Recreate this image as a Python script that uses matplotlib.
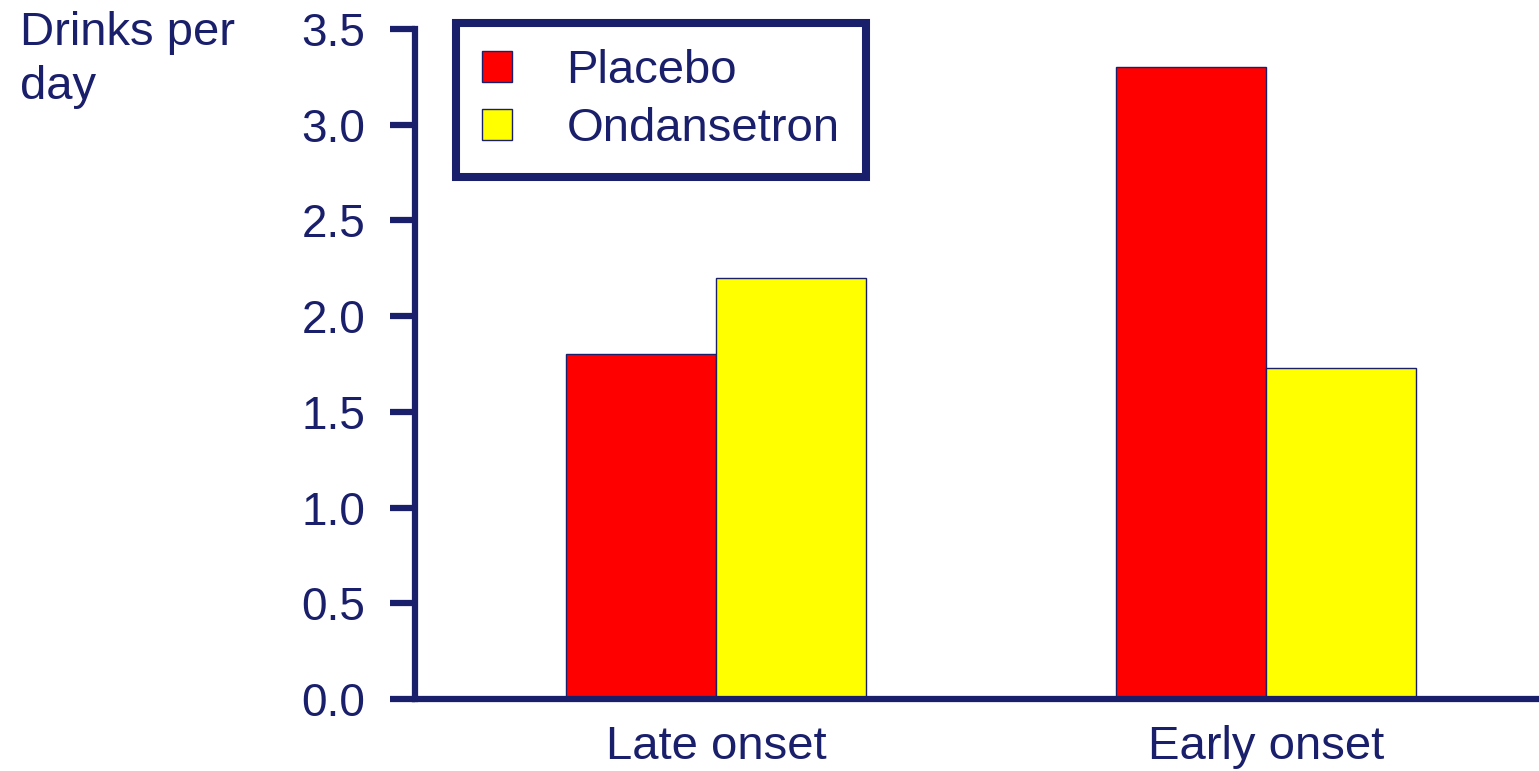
import numpy as np
import matplotlib.pyplot as plt

plt.rcParams['font.family'] = ['Liberation Sans', 'DejaVu Sans']

# Dados do gráfico
categorias = ['Late onset', 'Early onset']
placebo = [1.8, 3.3]
ondansetron = [2.2, 1.73]
series = ['Placebo', 'Ondansetron']
yticks = [0.0, 0.5, 1.0, 1.5, 2.0, 2.5, 3.0, 3.5]

navy = '#1a1f6b'
fs = 33

fig = plt.figure(figsize=(15.39, 7.71), dpi=100)
# eixo: esquerda em 415 px, base em 699 px, topo (3.5) em ~29 px
ax = fig.add_axes([415 / 1539, 72 / 771, 1 - 415 / 1539, 670 / 771])

x = np.arange(len(categorias))
w = 0.273
ax.bar(x - w / 2, placebo, w, color='#ff0000', edgecolor=navy, linewidth=1, label=series[0], zorder=2)
ax.bar(x + w / 2, ondansetron, w, color='#ffff00', edgecolor=navy, linewidth=1, label=series[1], zorder=2)

ax.set_xlim(-0.547, 1.496)
ax.set_ylim(0, 3.5)
ax.set_yticks(yticks)
ax.set_yticklabels([f'{v:.1f}' for v in yticks])
ax.set_xticks(x)
ax.set_xticklabels(categorias)

for s in ['top', 'right']:
    ax.spines[s].set_visible(False)
for s in ['left', 'bottom']:
    ax.spines[s].set_linewidth(4.5)
    ax.spines[s].set_color(navy)
    ax.spines[s].set_zorder(3)

ax.tick_params(axis='y', direction='out', length=18, width=4.5, color=navy,
               labelcolor=navy, labelsize=fs, pad=18)
ax.tick_params(axis='x', length=0, labelcolor=navy, labelsize=34, pad=19)

fig.text(20 / 1539, 1 - 11 / 771, 'Drinks per\nday', color=navy, fontsize=34,
         ha='left', va='top', linespacing=1.3)

leg = ax.legend(loc='upper left', bbox_to_anchor=(0.0365, 1.0085), borderaxespad=0,
                fontsize=34, frameon=True, fancybox=False, framealpha=1,
                handlelength=0.64, handleheight=0.64, handletextpad=1.15,
                borderpad=0.55, labelspacing=0.3, labelcolor=navy)
leg.get_frame().set_edgecolor(navy)
leg.get_frame().set_linewidth(5.8)

fig.savefig('out.png', dpi=100)
